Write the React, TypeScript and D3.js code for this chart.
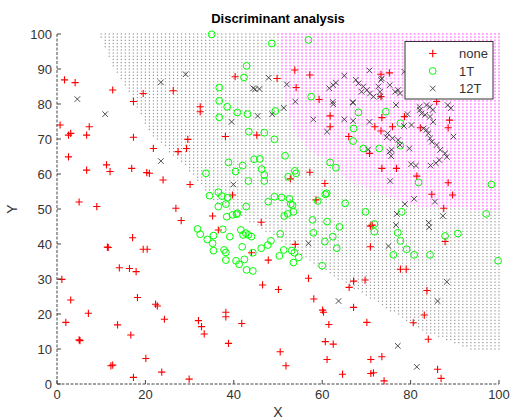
import * as d3 from 'd3';

const W = 512;
const H = 419;

const xTicks = [0, 20, 40, 60, 80, 100];
const yTicks = [0, 10, 20, 30, 40, 50, 60, 70, 80, 90, 100];
const groupNames = ['none', '1T', '12T'];

// red + : group "none"
const nonePts: [number, number][] = [
  [1.7, 86.9], [4.1, 86.1], [0.7, 74], [2.6, 71.1], [3.1, 71.6], [2.6, 64.9], [7.3, 73.5], [6.7, 71.1],
  [6.7, 61.1], [5.0, 52.0], [9.0, 50.7], [12.6, 84], [17.3, 80.7], [19.5, 83], [26.3, 83.8], [32.4, 79.2],
  [32.4, 77.8], [17.3, 70.5], [21.8, 67.3], [27.4, 66.4], [29.3, 67.3], [29.6, 69.9], [11.2, 62.6], [12.0, 60.7],
  [16.9, 61.6], [20.3, 60.4], [20.9, 60.2], [24.0, 58.3], [30.1, 57.0], [40.3, 87.8], [38.1, 70.7], [39.7, 54.0],
  [26.9, 50.2], [45.2, 71.1], [53.8, 89.7], [49.8, 87.3], [57.2, 88.3], [54.1, 84.7], [59.3, 81.3], [73.3, 88.5],
  [75.2, 88.9], [61.8, 76.6], [61.8, 73.5], [73.5, 76.1], [71.9, 73.5], [73.3, 72.3], [75.9, 73.5], [78.6, 76.4],
  [66.0, 70.7], [82.2, 73.2], [85.9, 80.7], [88.8, 75.4], [88.5, 73.2], [70.7, 65.9], [57.2, 60.5], [60.6, 57.3],
  [73.5, 61.6], [76.8, 61.6], [81.4, 59.4], [52.8, 58.6], [88.5, 57.5], [84.8, 54.2], [89.5, 54], [58.6, 52.6],
  [87.5, 50.2], [73.3, 82.1], [28.1, 46.7], [35.2, 48], [36.5, 44], [17.1, 41.8], [11.4, 39.1], [11.6, 39.0],
  [19.5, 38.5], [20.4, 38.5], [14.1, 33.2], [16.4, 33], [17.9, 32.1], [1.1, 29.9], [3.1, 24], [18.2, 24.7],
  [22.3, 22.8], [22.7, 22.3], [2, 17.6], [7.1, 20.2], [13.7, 16.9], [16.7, 14], [24.3, 18.5], [5.0, 12.6],
  [5.2, 12.4], [12.2, 5.2], [12.6, 5.4], [20.1, 7.3], [17.3, 1.9], [23.7, 3.4], [29.9, 1.4], [32, 18.1],
  [32.7, 16.4], [33.3, 14.3], [38.2, 20.5], [38.2, 19.2], [38.8, 11.6], [41.8, 17.3], [44, 37.5], [46.2, 46.2],
  [53.9, 39.9], [47.8, 35.4], [46.5, 28.3], [50.1, 27], [56.9, 30.2], [58.1, 24.3], [60.1, 21.1], [60.3, 20.5],
  [61.5, 17], [60.7, 12.1], [62.5, 11.4], [50.5, 9.2], [51.8, 5.2], [61.1, 7], [64.6, 2.8], [67.1, 29.4],
  [66.1, 27.6], [69.7, 29.7], [67.1, 21.9], [70.1, 17.6], [70.9, 39.2], [70.9, 45.1], [71.3, 45.4], [71, 7],
  [73.5, 7.8], [71, 3], [71.6, 3.2], [74, 0.9], [77.7, 32.8], [79, 32.8], [80.6, 17.5], [83.1, 19.7],
  [84, 12.8], [83.7, 26.7], [87.8, 40.7], [86.1, 4.2], [86.9, 1.6],
];

// green o : group "1T"
const t1Pts: [number, number][] = [
  [35.0, 99.9], [42.9, 90.9], [42.3, 87.6], [36.7, 84.7], [36.7, 80.9], [38.5, 79.2], [40.8, 77.6], [43.1, 77.1],
  [36.7, 76.2], [43.4, 72.1], [44.6, 64.2], [38.8, 63.3], [42.0, 62.4], [40.4, 60.7], [33.7, 60.2], [43.3, 58.0],
  [36.5, 54.8], [34.5, 53.8], [37.3, 53.7], [38.6, 53.2], [38.2, 51.4], [42.8, 50.7], [48.6, 97.3], [56.9, 98.3],
  [57.5, 82.1], [49.4, 78], [46.9, 71.8], [49.2, 69.9], [51.6, 65.2], [67.1, 73], [67.0, 69.4], [68.2, 77.6],
  [74.4, 77.8], [77.7, 74.5], [69.3, 67.3], [72.9, 67.3], [77.7, 68.1], [61.8, 63.3], [63.1, 61.8], [53.8, 60.9],
  [54.1, 60.2], [52.3, 59.2], [46.9, 59.7], [46.3, 61.4], [45.9, 64.3], [46.9, 58], [81.8, 57.6], [98.3, 57],
  [60.7, 54.2], [61.0, 54.5], [59.0, 52.3], [65.2, 51.6], [52.6, 52.9], [50.8, 53.3], [49.2, 53.5], [47.8, 52.1],
  [53.3, 51.1], [31.8, 44.3], [32.4, 42.8], [34, 41.3], [35.4, 42.4], [35.2, 40.2], [35.4, 38.1], [36.5, 50.7],
  [38.4, 47.8], [39.7, 48.3], [40.8, 48.8], [37.5, 44.2], [39.1, 42.1], [37.8, 38.3], [38.2, 37.6], [38.2, 35.4],
  [40.5, 35.2], [41.2, 34.2], [42.4, 35.6], [41.6, 44], [42.1, 42.6], [42.7, 43.1], [43.3, 42.6], [44, 42.1],
  [41.9, 39.2], [42.9, 32.6], [44.3, 32.3], [44.3, 37.5], [52.9, 51.4], [53.5, 49.2], [51.4, 48], [52.2, 48.6],
  [50.5, 42.9], [48.4, 40.9], [47.7, 39.7], [46.2, 38.8], [51.3, 38.3], [50.3, 36.6], [53.1, 38.1], [53.7, 37.5],
  [54.7, 36.2], [53.5, 34.7], [57.8, 46.9], [61.1, 46.4], [63.9, 44.9], [58, 43.2], [62.4, 42.1], [60.6, 40.7],
  [63.3, 38.8], [60, 33.8], [69.8, 49.2], [71.8, 43.5], [71.8, 45.7], [78, 49.2], [77.1, 43.2], [77.7, 40.9],
  [79.1, 38.5], [76.1, 36.9], [80.8, 36.9], [84.4, 36.9], [87.8, 42.3], [90.7, 43], [97.1, 48.6], [99.8, 35.2],
  [40.6, 48.5],
];

// black x : group "12T"
const t12Pts: [number, number][] = [
  [4.6, 81.4], [10.9, 77.1], [23.5, 86.2], [29.1, 88.5], [23.5, 63.7], [39.5, 74.9], [39.9, 57.0], [44.4, 84.5],
  [47.9, 87.5], [45.8, 84.3], [44.8, 84.2], [52, 85.6], [53.9, 80.7], [51.3, 78.9], [48.7, 77.1], [45.4, 76.6],
  [61.6, 84.5], [63.1, 86.1], [65.0, 88.1], [62.4, 80.6], [62.5, 79.9], [67.0, 80.4], [58, 75.6], [65, 75.6],
  [70.7, 89.6], [78.6, 89.2], [73.3, 86.9], [74.8, 71.6], [75.9, 70.2], [75.2, 66.4], [75.6, 65.1], [77.2, 69.7],
  [75.4, 58], [80.1, 62.8], [81.2, 62.4], [84.5, 62.4], [85.7, 63.1], [86.5, 64], [88.2, 64.9], [89.7, 70.7],
  [89.1, 78.8], [88.4, 79.7], [82, 79.2], [80.8, 52.9], [85.5, 52.1], [78.7, 51.4], [70.4, 67.0], [61.1, 72.1],
  [62.5, 85.4], [67.6, 86.9], [68.2, 85.9], [69.3, 85], [70.1, 84], [70.8, 83], [71.6, 82.1], [72.7, 85],
  [73.1, 83.5], [73.5, 87.3], [75.3, 85.4], [76.5, 83.5], [77.2, 84], [77.6, 83], [68.9, 83.5], [73.1, 82.1],
  [66.9, 80.5], [76.7, 79.7], [83.6, 79.7], [84.4, 79.2], [85, 78.3], [67.0, 75.2], [70.7, 74.9], [79.3, 77.1],
  [78.5, 73.7], [80.2, 74], [74.6, 70.5], [75.7, 66.9], [77.6, 68.3], [79.7, 67.3], [82.1, 78.3], [82.5, 77.3],
  [83.3, 76.9], [84.4, 76.4], [85.1, 74.9], [82.9, 73], [83.6, 72.6], [84, 71.6], [84.4, 70.2], [84.8, 69.2],
  [85.9, 68.3], [86.7, 66.9], [87.8, 65.9], [56.9, 40.2], [63.7, 23.7], [76.9, 48.6], [76.7, 45.4], [75, 39.4],
  [87.3, 48], [84.1, 46.1], [84.2, 44.8], [88.2, 29.2], [86.1, 23.7], [77.1, 10.9], [81.4, 4.9],
];

const noneEdge: [number, number][] = [
  [100, 9.7], [90.6, 12.7], [81, 17.2], [71.7, 21], [62, 29], [52.6, 35.3], [43, 48], [33.4, 59], [24, 71.5],
  [14.6, 83.5], [10, 93.5],
];
const t12Edge: [number, number][] = [
  [100, 50], [91, 50.2], [82, 51.6], [72.6, 53.4], [67.7, 56.6], [63, 61.8], [59, 64.7], [57, 68.5], [51, 80],
  [49.5, 100],
];

const x = d3.scaleLinear().domain([0, 100]).range([57, 499]);
const y = d3.scaleLinear().domain([0, 100]).range([384, 34]);

const noneX = d3.scaleLinear().domain(noneEdge.map(d => d[0])).range(noneEdge.map(d => d[1])).clamp(true);
const t12X = d3.scaleLinear().domain(t12Edge.map(d => d[0])).range(t12Edge.map(d => d[1])).clamp(true);

// 100 x 100 evaluation grid, like meshgrid(linspace(10,100))
const grid = d3.range(100).map(i => 10 + (i * 90) / 99);

export default function App() {
  const gray: [number, number][] = [];
  const pink: [number, number][] = [];
  grid.forEach(gy => {
    grid.forEach(gx => {
      if (gx < noneX(gy)) return;
      if (gy >= 49.5 && gx >= t12X(gy)) pink.push([gx, gy]);
      else gray.push([gx, gy]);
    });
  });

  const font = 'Liberation Sans, Arial, sans-serif';
  const plus = (p: [number, number]) => {
    const cx = x(p[0]), cy = y(p[1]), r = 3.6;
    return `M${cx - r},${cy}H${cx + r}M${cx},${cy - r}V${cy + r}`;
  };
  const cross = (p: [number, number]) => {
    const cx = x(p[0]), cy = y(p[1]), r = 2.8;
    return `M${cx - r},${cy - r}L${cx + r},${cy + r}M${cx - r},${cy + r}L${cx + r},${cy - r}`;
  };

  return (
    <svg width={W} height={H} style={{ position: 'absolute', left: 0, top: 0, background: '#fff' }}>
      <rect width={W} height={H} fill="#fff" />

      <g>
        {gray.map((p, i) => (
          <rect key={'g' + i} x={x(p[0]) - 0.6} y={y(p[1]) - 0.6} width={1.2} height={1.2} fill="#000" opacity={0.42} />
        ))}
        {pink.map((p, i) => (
          <rect key={'p' + i} x={x(p[0]) - 0.9} y={y(p[1]) - 0.9} width={1.8} height={1.8} fill="#ff00ff" opacity={0.4} />
        ))}
      </g>

      <path d={nonePts.map(plus).join('')} stroke="#ff0000" strokeWidth={1.1} fill="none" />
      <g>
        {t1Pts.map((p, i) => (
          <circle key={i} cx={x(p[0])} cy={y(p[1])} r={3.4} stroke="#00ff00" strokeWidth={1} fill="none" />
        ))}
      </g>
      <path d={t12Pts.map(cross).join('')} stroke="#3a3a3a" strokeWidth={0.9} fill="none" />

      {/* axes */}
      <line x1={57} x2={57} y1={y(100)} y2={y(0)} stroke="#444" strokeDasharray="3 1.5" />
      <line x1={57} x2={499} y1={384} y2={384} stroke="#444" strokeDasharray="3 1.5" />
      {yTicks.map(t => (
        <g key={'yt' + t}>
          <line x1={57} x2={61} y1={y(t)} y2={y(t)} stroke="#444" />
          <text x={52} y={y(t)} dy="0.36em" textAnchor="end" fontFamily={font} fontSize={13} fill="#333">{t}</text>
        </g>
      ))}
      {xTicks.map(t => (
        <g key={'xt' + t}>
          <line x1={x(t)} x2={x(t)} y1={384} y2={380} stroke="#444" />
          <text x={x(t)} y={399} textAnchor="middle" fontFamily={font} fontSize={13} fill="#333">{t}</text>
        </g>
      ))}
      <text x={278} y={417} textAnchor="middle" fontFamily={font} fontSize={14} fill="#333">X</text>
      <text transform="translate(17,209) rotate(-90)" textAnchor="middle" fontFamily={font} fontSize={14} fill="#333">Y</text>
      <text x={278} y={23} textAnchor="middle" fontFamily={font} fontSize={13} fontWeight="bold" fill="#000">Discriminant analysis</text>

      {/* legend */}
      <rect x={405} y={41.5} width={88} height={57.5} fill="#fff" stroke="#333" />
      {groupNames.map((g, i) => {
        const ly = 53.5 + i * 17.5;
        return (
          <g key={g}>
            {i === 0 && <path d={`M429,${ly}H436.5M432.7,${ly - 3.7}V${ly + 3.7}`} stroke="#ff0000" strokeWidth={1.1} />}
            {i === 1 && <circle cx={432.7} cy={ly} r={3.4} stroke="#00ff00" fill="none" />}
            {i === 2 && <path d={`M430,${ly - 2.8}L435.5,${ly + 2.8}M430,${ly + 2.8}L435.5,${ly - 2.8}`} stroke="#3a3a3a" strokeWidth={0.9} />}
            <text x={459} y={ly} dy="0.36em" fontFamily={font} fontSize={13} fill="#333">{g}</text>
          </g>
        );
      })}
    </svg>
  );
}
